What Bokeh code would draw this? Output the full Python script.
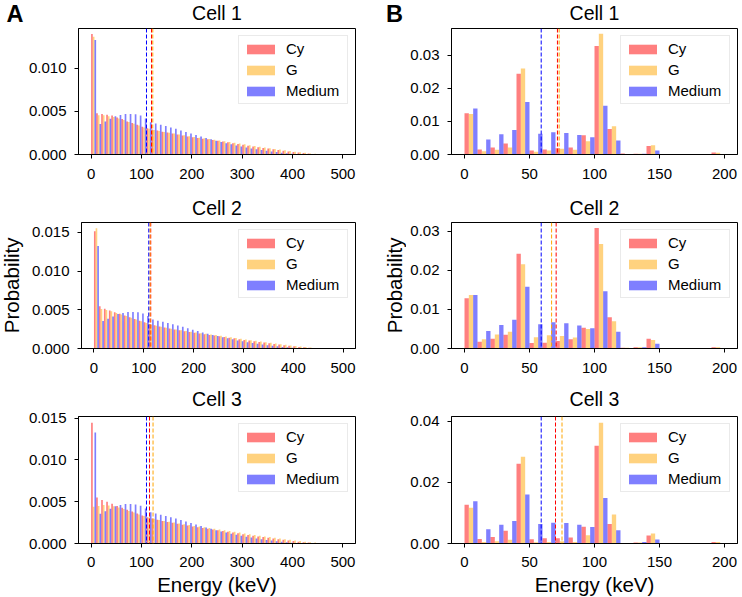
from bokeh.plotting import figure
from bokeh.models import (Range1d, FixedTicker, PrintfTickFormatter, Span, Label,
                          Legend, LegendItem, ColumnDataSource)
from bokeh.layouts import column, row
from bokeh.embed import file_html
from bokeh.resources import INLINE
import math

FONT = "Liberation Sans"
SERIES = ["Cy", "G", "Medium"]
COLORS = ["#ff0000", "#ffa500", "#0000ff"]
BIN_WIDTH = 10

# bin left edges (keV)
left_edges = list(range(0, 500, 10))
right_edges = list(range(0, 200, 10))

# ---- Column A : full spectra (probability x 1e-3) ----
A1_cy = [14.0, 4.8, 4.72, 4.62, 4.52, 4.3, 4.12, 3.85, 3.65, 3.45, 3.22, 3.05, 2.9, 2.78, 2.65,
         2.55, 2.45, 2.33, 2.22, 2.1, 2.0, 1.92, 1.84, 1.76, 1.68, 1.6, 1.5, 1.41, 1.32, 1.22,
         1.12, 1.03, 0.94, 0.85, 0.77, 0.69, 0.6, 0.52, 0.44, 0.36, 0.29, 0.22, 0.16, 0.11, 0.07,
         0.04, 0.02, 0.01, 0.0, 0.0]
A1_g = [13.7, 4.55, 4.55, 4.45, 4.35, 4.2, 4.02, 3.78, 3.58, 3.36, 3.15, 2.98, 2.85, 2.73, 2.62,
        2.52, 2.43, 2.33, 2.23, 2.13, 2.04, 1.96, 1.88, 1.8, 1.72, 1.64, 1.55, 1.46, 1.37, 1.28,
        1.18, 1.09, 1.0, 0.91, 0.82, 0.74, 0.65, 0.57, 0.49, 0.41, 0.33, 0.26, 0.19, 0.13, 0.08,
        0.05, 0.03, 0.01, 0.0, 0.0]
A1_m = [13.3, 3.55, 3.85, 4.15, 4.45, 4.6, 4.72, 4.72, 4.68, 4.52, 4.2, 3.75, 3.6, 3.45, 3.3,
        3.15, 2.98, 2.8, 2.62, 2.44, 2.26, 2.08, 1.92, 1.76, 1.6, 1.45, 1.31, 1.18, 1.05, 0.93,
        0.82, 0.71, 0.61, 0.52, 0.43, 0.35, 0.28, 0.21, 0.15, 0.1, 0.06, 0.03, 0.01, 0.0, 0.0,
        0.0, 0.0, 0.0, 0.0, 0.0]

A2_cy = [15.15, 5.45, 5.15, 4.9, 4.7, 4.5, 4.28, 4.05, 3.82, 3.6, 3.38, 3.18, 3.0, 2.84, 2.7,
         2.58, 2.46, 2.35, 2.24, 2.13, 2.03, 1.94, 1.85, 1.76, 1.67, 1.58, 1.49, 1.4, 1.31, 1.21,
         1.11, 1.02, 0.93, 0.84, 0.76, 0.68, 0.59, 0.51, 0.43, 0.35, 0.28, 0.21, 0.15, 0.1, 0.06,
         0.04, 0.02, 0.01, 0.0, 0.0]
A2_g = [15.55, 5.1, 4.98, 4.8, 4.6, 4.4, 4.2, 3.98, 3.75, 3.52, 3.3, 3.1, 2.94, 2.8, 2.67,
        2.56, 2.46, 2.36, 2.26, 2.16, 2.06, 1.98, 1.9, 1.82, 1.73, 1.64, 1.55, 1.46, 1.37, 1.27,
        1.17, 1.08, 0.99, 0.9, 0.81, 0.73, 0.64, 0.56, 0.48, 0.4, 0.32, 0.25, 0.18, 0.12, 0.08,
        0.05, 0.03, 0.01, 0.0, 0.0]
A2_m = [13.25, 3.55, 3.85, 4.15, 4.45, 4.6, 4.72, 4.72, 4.68, 4.52, 4.2, 3.75, 3.6, 3.45, 3.3,
        3.15, 2.98, 2.8, 2.62, 2.44, 2.26, 2.08, 1.92, 1.76, 1.6, 1.45, 1.31, 1.18, 1.05, 0.93,
        0.82, 0.71, 0.61, 0.52, 0.43, 0.35, 0.28, 0.21, 0.15, 0.1, 0.06, 0.03, 0.01, 0.0, 0.0,
        0.0, 0.0, 0.0, 0.0, 0.0]

A3_cy = [14.45, 5.5, 5.2, 5.0, 4.75, 4.5, 4.28, 4.05, 3.82, 3.6, 3.36, 3.15, 2.98, 2.83, 2.7,
         2.58, 2.47, 2.36, 2.25, 2.14, 2.04, 1.95, 1.86, 1.77, 1.68, 1.59, 1.5, 1.41, 1.32, 1.22,
         1.12, 1.03, 0.94, 0.85, 0.77, 0.69, 0.6, 0.52, 0.44, 0.36, 0.29, 0.22, 0.16, 0.11, 0.07,
         0.04, 0.02, 0.01, 0.0, 0.0]
A3_g = [4.4, 4.5, 4.6, 4.55, 4.45, 4.3, 4.12, 3.9, 3.7, 3.48, 3.28, 3.1, 2.95, 2.82, 2.7,
        2.6, 2.5, 2.4, 2.3, 2.2, 2.1, 2.02, 1.94, 1.86, 1.77, 1.68, 1.59, 1.5, 1.41, 1.31,
        1.21, 1.12, 1.03, 0.94, 0.85, 0.77, 0.68, 0.6, 0.52, 0.44, 0.36, 0.29, 0.22, 0.16, 0.11,
        0.07, 0.05, 0.03, 0.01, 0.0]
A3_m = [13.3, 3.55, 3.85, 4.15, 4.45, 4.6, 4.72, 4.72, 4.68, 4.52, 4.2, 3.75, 3.6, 3.45, 3.3,
        3.15, 2.98, 2.8, 2.62, 2.44, 2.26, 2.08, 1.92, 1.76, 1.6, 1.45, 1.31, 1.18, 1.05, 0.93,
        0.82, 0.71, 0.61, 0.52, 0.43, 0.35, 0.28, 0.21, 0.15, 0.1, 0.06, 0.03, 0.01, 0.0, 0.0,
        0.0, 0.0, 0.0, 0.0, 0.0]

# mean energies (keV): Cy, G, Medium
A1_means = [120.0, 122.5, 110.0]
A2_means = [114.0, 112.5, 110.0]
A3_means = [116.0, 123.0, 110.0]

# ---- Column B : low-energy spectra (probability x 1e-3) ----
B1_cy = [12.5, 1.5, 2.1, 3.3, 24.4, 1.2, 1.5, 1.9, 2.1, 5.8, 32.8, 7.7, 0.3, 0.2, 2.6, 0.0, 0.0, 0.0, 0.0, 0.6]
B1_g = [12.2, 1.0, 1.4, 2.1, 26.0, 0.8, 1.2, 1.7, 1.4, 4.0, 36.5, 8.5, 0.1, 0.2, 2.8, 0.0, 0.0, 0.0, 0.0, 0.5]
B1_m = [13.9, 4.5, 6.1, 7.4, 15.9, 6.3, 6.7, 6.5, 5.9, 5.2, 14.7, 4.2, 0.1, 0.2, 1.2, 0.0, 0.0, 0.0, 0.0, 0.0]

B2_cy = [12.9, 1.7, 2.5, 3.5, 24.3, 1.4, 1.5, 1.9, 2.4, 5.3, 30.9, 8.0, 0.2, 0.3, 2.5, 0.0, 0.0, 0.0, 0.0, 0.3]
B2_g = [13.7, 2.4, 3.6, 4.3, 21.6, 2.9, 3.4, 3.2, 2.8, 5.0, 26.8, 7.0, 0.2, 0.3, 2.2, 0.0, 0.0, 0.0, 0.0, 0.3]
B2_m = [13.7, 4.5, 6.0, 7.4, 15.8, 6.2, 6.7, 6.5, 5.9, 5.2, 14.7, 4.3, 0.1, 0.3, 1.2, 0.0, 0.0, 0.0, 0.0, 0.1]

B3_cy = [12.7, 1.5, 2.1, 4.2, 26.1, 1.4, 1.7, 1.7, 2.0, 5.5, 32.0, 6.4, 0.2, 0.3, 2.6, 0.0, 0.0, 0.0, 0.0, 0.5]
B3_g = [11.7, 0.5, 0.7, 1.2, 28.4, 0.4, 0.5, 0.7, 0.5, 2.7, 39.5, 9.5, 0.2, 0.3, 3.3, 0.0, 0.0, 0.0, 0.0, 0.5]
B3_m = [13.8, 4.7, 6.1, 7.4, 16.0, 6.4, 6.8, 6.7, 6.1, 5.4, 14.9, 4.3, 0.1, 0.5, 1.3, 0.0, 0.0, 0.0, 0.0, 0.0]

B1_means = [71.5, 72.8, 59.0]
B2_means = [70.5, 67.0, 59.0]
B3_means = [70.0, 75.0, 59.0]

titles = ["Cell 1", "Cell 2", "Cell 3"]
panel_letters = ["A", "B"]
x_label = "Energy (keV)"
y_label = "Probability"
A_ymax = [0.01465, 0.01629, 0.0152]
B_ymax = [0.03807, 0.0323, 0.04154]
A_xrange = (-25, 525)
B_xrange = (-10, 210)
A_xticks = [0, 100, 200, 300, 400, 500]
B_xticks = [0, 50, 100, 150, 200]
A_yticks = [0, 0.005, 0.010, 0.015]
B_yticks = [[0, 0.01, 0.02, 0.03], [0, 0.01, 0.02, 0.03], [0, 0.02, 0.04]]

# ---------------- layout geometry (px, page coordinates) ----------------
TOTAL_W = 742
COL_W = [370, 372]          # figure widths
COL_L = [78, 81]            # left borders  -> frames start at 78 and 451
COL_R = [15, 5]             # right borders -> frame widths 277 and 286
FRAME_CX = [78 + 277 / 2, 451 + 286 / 2]
ROW_H = [169, 167, 164]
ROW_TOP = [1, 2, 7]
ROW_BOT = [42, 39, 30]
X_STANDOFF = [10, 10, 9]
STRIP_TOP = [0, 196, 387, 573]   # page y of each text strip
STRIP_H = [27, 24, 22, 23]
TITLE_BASE = [18.9, 214.0, 404.9]  # page y of title baselines
LETTER_BASE = 22.0
LETTER_X = [6, 385.5]
XLABEL_BASE = 591.6
PROB_BASE_X = [18.6, 401.0]        # page x of rotated label baseline
PROB_START_Y = 336.7               # page y where "Probability" starts
ROT_SHIFT = 30.0                   # renderer offset along text direction for rotated labels
PROB_STRIP = [(0, 28), (370, 36)]  # (page x, width)
MID = 0.3465                       # box-middle above baseline, in em

TITLE_FS, LETTER_FS, LABEL_FS = 19.5, 23.5, 20.5


def blank(w, h):
    s = figure(width=w, height=h, output_backend="svg", toolbar_location=None,
               x_range=Range1d(0, w), y_range=Range1d(0, h),
               x_axis_location=None, y_axis_location=None, min_border=0)
    s.grid.visible = False
    s.outline_line_color = None
    s.background_fill_color = "white"
    s.border_fill_color = "white"
    return s


def strip_label(s, top, h, x, base, text, fs, align="center", bold=False):
    y_mid = base - MID * fs   # page y of text-box middle
    s.add_layout(Label(x=x, y=top + h - y_mid, text=text, text_align=align,
                       text_baseline="middle", text_font=FONT,
                       text_font_style="bold" if bold else "normal",
                       text_font_size=f"{fs}px", text_color="black"))


def vlabel_strip(px, w, h, top, base_x):
    s = blank(w, h)
    x_mid = base_x - MID * LABEL_FS - px
    s.add_layout(Label(x=x_mid, y=top + h - (PROB_START_Y + ROT_SHIFT), text=y_label,
                       angle=math.pi / 2, text_align="left", text_baseline="middle",
                       text_font=FONT, text_font_size=f"{LABEL_FS}px", text_color="black"))
    return s


def panel(col, r, edges, vals, means, xr, ymax, xticks, yticks, yfmt, width=None, left=None):
    p = figure(width=width or COL_W[col], height=ROW_H[r], output_backend="svg",
               toolbar_location=None,
               x_range=Range1d(*xr), y_range=Range1d(0, ymax),
               min_border_left=left or COL_L[col], min_border_right=COL_R[col],
               min_border_top=ROW_TOP[r], min_border_bottom=ROW_BOT[r])
    p.xgrid.visible = False
    p.ygrid.visible = False
    p.outline_line_color = "black"
    p.outline_line_width = 1
    p.outline_line_alpha = 1
    p.background_fill_color = "white"
    p.border_fill_color = "white"

    w = BIN_WIDTH / len(SERIES)
    items = []
    for i, (name, v, c) in enumerate(zip(SERIES, vals, COLORS)):
        src = ColumnDataSource(dict(x=[e + w * (i + 0.5) for e in edges],
                                    top=[t * 1e-3 for t in v]))
        rr = p.vbar(x="x", top="top", width=w, source=src, fill_color=c,
                    fill_alpha=0.5, line_color=None)
        items.append(LegendItem(label=name, renderers=[rr]))
    for m, c in zip(means, COLORS):
        p.add_layout(Span(location=m, dimension="height", line_color=c,
                          line_width=1, line_dash="4 2"))

    leg = Legend(items=items, location="top_right", margin=7, padding=4, spacing=4,
                 glyph_width=35, glyph_height=12, label_height=17, label_width=57,
                 label_standoff=8, label_text_font=FONT, label_text_font_size="15px",
                 label_text_color="black", border_line_color="#d6d6d6", border_line_width=1,
                 background_fill_color="white", background_fill_alpha=0.8)
    p.add_layout(leg)

    for ax in (p.xaxis, p.yaxis):
        ax.major_label_text_font = FONT
        ax.major_label_text_font_size = "15px"
        ax.major_label_text_color = "black"
        ax.axis_line_color = "black"
        ax.major_tick_line_color = "black"
        ax.major_tick_out = 4
        ax.major_tick_in = 0
        ax.minor_tick_out = 0
        ax.minor_tick_in = 0
    p.xaxis.major_label_standoff = X_STANDOFF[r]
    p.yaxis.major_label_standoff = 8
    p.xaxis.ticker = FixedTicker(ticks=xticks)
    p.yaxis.ticker = FixedTicker(ticks=yticks)
    p.yaxis.formatter = PrintfTickFormatter(format=yfmt)
    return p


A_vals = [(A1_cy, A1_g, A1_m), (A2_cy, A2_g, A2_m), (A3_cy, A3_g, A3_m)]
B_vals = [(B1_cy, B1_g, B1_m), (B2_cy, B2_g, B2_m), (B3_cy, B3_g, B3_m)]
A_means = [A1_means, A2_means, A3_means]
B_means = [B1_means, B2_means, B3_means]

row_tops = [STRIP_TOP[r] + STRIP_H[r] for r in range(3)]

parts = []
for r in range(3):
    strip = blank(TOTAL_W, STRIP_H[r])
    for cx in FRAME_CX:
        strip_label(strip, STRIP_TOP[r], STRIP_H[r], cx, TITLE_BASE[r], titles[r], TITLE_FS)
    if r == 0:
        for lx, letter in zip(LETTER_X, panel_letters):
            strip_label(strip, STRIP_TOP[r], STRIP_H[r], lx, LETTER_BASE, letter, LETTER_FS,
                        align="left", bold=True)
    parts.append(strip)

    if r == 1:
        (lx0, lw), (rx0, rw) = PROB_STRIP
        probL = vlabel_strip(lx0, lw, ROW_H[r], row_tops[r], PROB_BASE_X[0])
        pa = panel(0, r, left_edges, A_vals[r], A_means[r], A_xrange, A_ymax[r],
                   A_xticks, A_yticks, "%.3f", width=COL_W[0] - lw, left=COL_L[0] - lw)
        probR = vlabel_strip(rx0, rw, ROW_H[r], row_tops[r], PROB_BASE_X[1])
        pb = panel(1, r, right_edges, B_vals[r], B_means[r], B_xrange, B_ymax[r],
                   B_xticks, B_yticks[r], "%.2f", width=COL_W[1] - rw, left=COL_L[1] - rw)
        parts.append(row(probL, pa, probR, pb))
    else:
        pa = panel(0, r, left_edges, A_vals[r], A_means[r], A_xrange, A_ymax[r],
                   A_xticks, A_yticks, "%.3f")
        pb = panel(1, r, right_edges, B_vals[r], B_means[r], B_xrange, B_ymax[r],
                   B_xticks, B_yticks[r], "%.2f")
        parts.append(row(pa, pb))

bottom = blank(TOTAL_W, STRIP_H[3])
for cx in FRAME_CX:
    strip_label(bottom, STRIP_TOP[3], STRIP_H[3], cx, XLABEL_BASE, x_label, LABEL_FS)
parts.append(bottom)

layout = column(*parts)
open("out.html", "w").write(file_html(layout, INLINE))
